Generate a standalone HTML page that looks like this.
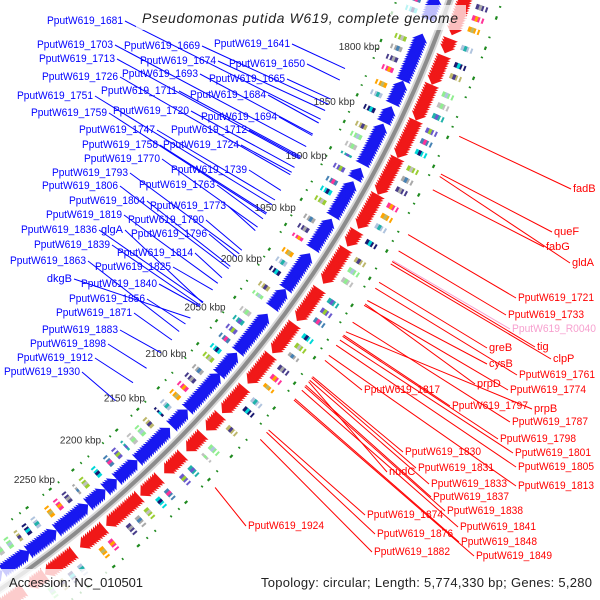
<!DOCTYPE html>
<html><head><meta charset="utf-8"><style>
html,body{margin:0;padding:0;background:#fff;width:600px;height:600px;overflow:hidden;}
svg{display:block;font-family:"Liberation Sans",sans-serif;}
</style></head><body>
<svg id="map" width="600" height="600" viewBox="0 0 600 600" xmlns="http://www.w3.org/2000/svg">
<g id="cog"></g>
<g id="dots"></g>
<g id="genes"></g>
<g id="backbone"></g>
<g id="ticks"></g>
<g id="lines"></g>
<g id="labels"></g>
<rect x="136" y="5" width="330" height="25" fill="#fff" opacity="0.72"/>
<text x="142" y="23" font-size="14" font-style="italic" fill="#222" textLength="316" lengthAdjust="spacing">Pseudomonas putida W619, complete genome</text>
<rect x="0" y="569" width="600" height="31" fill="#fff" opacity="0.78"/>
<text x="9" y="587" font-size="13" fill="#222" textLength="134" lengthAdjust="spacing">Accession: NC_010501</text>
<text x="261" y="587" font-size="13" fill="#222" textLength="331" lengthAdjust="spacing">Topology: circular; Length: 5,774,330 bp; Genes: 5,280</text>
</svg>
<script>
const NS="http://www.w3.org/2000/svg";
const CX=-670, CY=-388, R0=1185;
const tickKbp=[1800,1850,1900,1950,2000,2050,2100,2150,2200,2250];
const blueClusters=[[1745,1760],[1778,1812],[1818,1832],[1840,1848],[1855,1885],[1893,1898],[1905,1932],[1940,1962],[1972,2000],[2005,2018],[2030,2062],[2068,2085],[2090,2122],[2128,2140],[2148,2178],[2183,2200],[2205,2212],[2218,2230],[2236,2262],[2268,2290],[2295,2315],[2320,2335]];
const redClusters=[[1735,1760],[1768,1775],[1782,1800],[1806,1830],[1836,1862],[1868,1895],[1900,1925],[1932,1940],[1948,1975],[1985,2010],[2018,2040],[2048,2070],[2080,2100],[2108,2118],[2128,2140],[2150,2165],[2175,2190],[2196,2225],[2232,2250],[2262,2285],[2290,2300],[2310,2335]];
const blueLabelText=["PputW619_1681","PputW619_1703","PputW619_1669","PputW619_1641","PputW619_1713","PputW619_1674","PputW619_1650","PputW619_1726","PputW619_1693","PputW619_1665","PputW619_1751","PputW619_1711","PputW619_1684","PputW619_1759","PputW619_1720","PputW619_1694","PputW619_1747","PputW619_1712","PputW619_1758","PputW619_1724","PputW619_1770","PputW619_1739","PputW619_1793","PputW619_1763","PputW619_1806","PputW619_1804","PputW619_1773","PputW619_1819","PputW619_1790","PputW619_1836","glgA","PputW619_1796","PputW619_1839","PputW619_1814","PputW619_1863","PputW619_1825","dkgB","PputW619_1840","PputW619_1856","PputW619_1871","PputW619_1883","PputW619_1898","PputW619_1912","PputW619_1930"];
const blueLabelEndX=[123,113,200,290,115,216,305,118,198,285,93,177,266,107,189,277,155,247,158,239,160,247,128,215,118,145,226,122,204,97,123,207,110,193,86,171,72,157,145,132,118,106,93,80];
const blueLabelY=[24,48,49,47,62,64,67,80,77,82,99,94,98,116,114,120,133,133,148,148,162,173,176,188,189,204,209,218,223,233,233,237,248,256,264,270,282,287,302,316,333,347,361,375];
const blueLabelKbp=[1868.4,1893.9,1854.5,1822,1905.5,1860.3,1832.4,1920.6,1882.3,1849.8,1949.6,1903.2,1871.9,1958.9,1913.6,1883.5,1945,1904.4,1957.7,1918.3,1971.6,1935.7,1998.3,1963.5,2013.4,2011.1,1975.1,2028.5,1994.8,2048.2,2049,2001.8,2051.7,2022.7,2079.5,2035.4,2065,2052.8,2071.4,2088.8,2102.7,2120.1,2136.4,2157.2];
const redLabelText=["fadB","queF","fabG","gldA","PputW619_1721","PputW619_1733","PputW619_R0040","tig","greB","clpP","cysB","PputW619_1761","prpD","PputW619_1774","PputW619_1817","PputW619_1797","prpB","PputW619_1787","PputW619_1798","PputW619_1830","PputW619_1801","PputW619_1831","PputW619_1805","nudC","PputW619_1833","PputW619_1813","PputW619_1837","PputW619_1838","PputW619_1874","PputW619_1841","PputW619_1876","PputW619_1848","PputW619_1882","PputW619_1849","PputW619_1924"];
const redLabelX=[573,554,546,572,518,508,512,537,489,553,489,519,477,510,364,452,534,512,500,405,515,418,518,389,431,518,433,447,367,460,377,461,374,476,248];
const redLabelY=[192,235,250,266,301,318,332,350,351,362,367,378,387,393,393,409,412,425,442,455,456,471,470,475,487,489,500,514,518,530,537,545,555,559,529];
const redLabelKbp=[1833,1864,1877,1866,1914.8,1928.7,1937,1938,1956,1940,1972,1961.2,1975,1976.3,2026.2,2003,2000,1991.4,2004.1,2041.2,2007.6,2042.4,2012.2,2046,2044.7,2021.5,2049.4,2050.6,2092.3,2054,2094.6,2062.2,2101.6,2063.3,2150.3];
const cogPalette=["#4682b4","#00d8d8","#9acd32","#a9a9a9","#483d8b","#ff3399","#ffa500","#b0c4de","#191970","#bdb76b","#90ee90","#c0c0c0","#20b2aa","#6a5acd"];

function ang(k){return (22.85+(k-1800)*0.06234)*Math.PI/180;}
function P(k,r){const a=ang(k);return [CX+r*Math.cos(a),CY+r*Math.sin(a)];}
function f(p){return p[0].toFixed(1)+","+p[1].toFixed(1);}
function poly(g,pts,fill,name){
  const el=document.createElementNS(NS,"polygon");
  el.setAttribute("points",pts.map(f).join(" "));
  el.setAttribute("fill",fill);
  
  
  g.appendChild(el);return el;
}
function box(g,k1,k2,r1,r2,fill,name){return poly(g,[P(k1,r1),P(k2,r1),P(k2,r2),P(k1,r2)],fill,name);}

const gCog=document.getElementById("cog"), gDots=document.getElementById("dots"), gGenes=document.getElementById("genes");
function cogRing(clusters,sign,off){
  let idx=off;
  clusters.forEach((c,ci)=>{
    for(let k=c[0]+1;k<c[1]-1;k+=9){
      const len=Math.min(4,c[1]-k);
      box(gCog,k,k+len,R0+sign*27,R0+sign*39,cogPalette[idx%cogPalette.length],"cog-box");
      box(gCog,k,k+len,R0+sign*30,R0+sign*33,cogPalette[(idx*3+5)%cogPalette.length],"cog-stripe");
      box(gCog,k,k+len,R0+sign*35,R0+sign*37,"#ffffff","cog-gap");
      idx++;
    }
  });
}
cogRing(blueClusters,-1,0);
cogRing(redClusters,1,4);
[-1,1].forEach(s=>{
  let i=0;
  for(let k=1700;k<2400;k+=8){
    i++;
    if(i%4===3) continue;
    const el=document.createElementNS(NS,"path");
    const a=P(k,R0+s*50),b=P(k+(i%3===0?2.6:1.2),R0+s*50);
    el.setAttribute("d","M"+f(a)+" L"+f(b));
    el.setAttribute("stroke","#1f8a1f");el.setAttribute("stroke-width","2.2");
    
    
    gDots.appendChild(el);
  }
});
blueClusters.forEach(c=>{
  for(let k=c[1];k>=c[0];k-=2){
    poly(gGenes,[P(k,R0-22),P(k,R0-6),P(k-6,R0-14)],"#1818f0","forward-gene");
  }
});
redClusters.forEach(c=>{
  for(let k=c[0];k<=c[1];k+=2){
    poly(gGenes,[P(k,R0+6),P(k,R0+22),P(k+6,R0+14)],"#f01818","reverse-gene");
  }
});
const gB=document.getElementById("backbone");
[["#d8d8d8",8],["#8c8c8c",4]].forEach(s=>{
  const el=document.createElementNS(NS,"path");
  el.setAttribute("d","M"+f(P(1650,R0))+" A"+R0+" "+R0+" 0 0 1 "+f(P(2420,R0)));
  el.setAttribute("fill","none");el.setAttribute("stroke",s[0]);el.setAttribute("stroke-width",s[1]);
  
  
  gB.appendChild(el);
});
const gT=document.getElementById("ticks");
tickKbp.forEach(k=>{
  const p=P(k,R0-68);
  const t=document.createElementNS(NS,"text");
  t.setAttribute("x",p[0].toFixed(1));t.setAttribute("y",(p[1]+4).toFixed(1));
  t.setAttribute("text-anchor","middle");t.setAttribute("font-size","10");t.setAttribute("fill","#333");
  t.textContent=k+" kbp";
  
  
  gT.appendChild(t);
});
const gL=document.getElementById("lines"), gX=document.getElementById("labels");
function line(x1,y1,x2,y2,col){
  const el=document.createElementNS(NS,"line");
  el.setAttribute("x1",x1.toFixed(1));el.setAttribute("y1",y1.toFixed(1));
  el.setAttribute("x2",x2.toFixed(1));el.setAttribute("y2",y2.toFixed(1));
  el.setAttribute("stroke",col);el.setAttribute("stroke-width","1");
  
  
  gL.appendChild(el);
}
function label(txt,x,y,anchor,col){
  const t=document.createElementNS(NS,"text");
  t.setAttribute("x",x);t.setAttribute("y",y);t.setAttribute("text-anchor",anchor);
  t.setAttribute("font-size","11");t.setAttribute("fill",col);
  if(txt.indexOf("PputW619_")===0){t.setAttribute("textLength",txt.length>13?"84":"76");t.setAttribute("lengthAdjust","spacingAndGlyphs");}
  t.textContent=txt;
  
  
  gX.appendChild(t);
}
blueLabelText.forEach((txt,i)=>{
  const p=P(blueLabelKbp[i],R0-72);
  line(blueLabelEndX[i]+2,blueLabelY[i]-3,p[0],p[1],"#0000ff");
  label(txt,blueLabelEndX[i],blueLabelY[i],"end","#0000ff");
});
redLabelText.forEach((txt,i)=>{
  const col=txt.indexOf("R0040")>=0?"#f7a0cf":"#ff0000";
  const p=P(redLabelKbp[i],R0+60);
  line(p[0],p[1],redLabelX[i]-2,redLabelY[i]-3,col);
  label(txt,redLabelX[i],redLabelY[i],"start",col);
});
</script>
</body></html>
